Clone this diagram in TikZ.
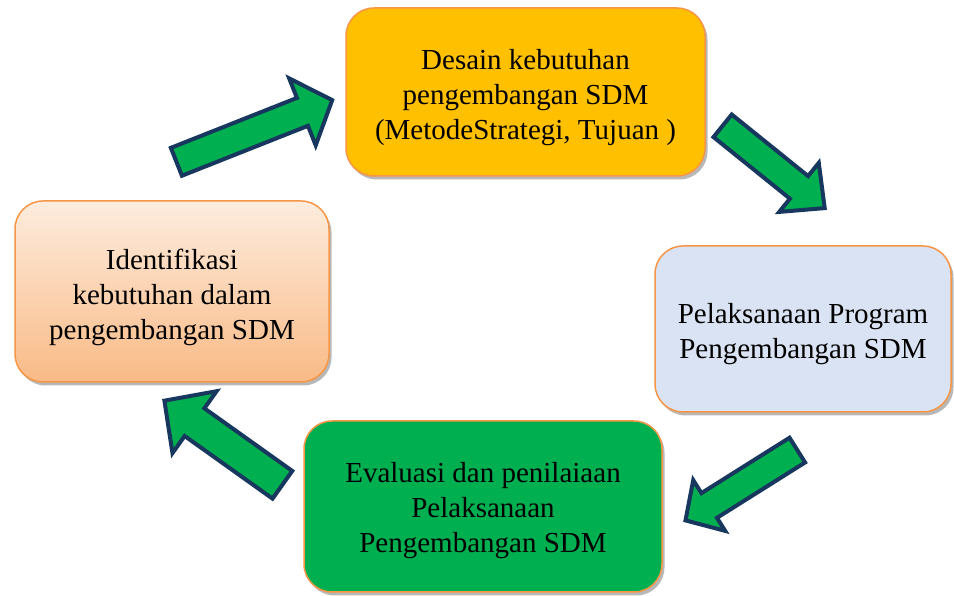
\documentclass[tikz,border=0pt]{standalone}
\usepackage{fontspec}
\setmainfont{Liberation Serif}
\usetikzlibrary{calc,shadows}
\definecolor{boxborder}{RGB}{247,150,70}
\definecolor{goldfill}{RGB}{255,192,0}
\definecolor{bluefill}{RGB}{218,227,243}
\definecolor{greenfill}{RGB}{0,176,80}
\definecolor{peachtop}{RGB}{253,236,222}
\definecolor{peachbot}{RGB}{249,186,134}
\definecolor{navy}{RGB}{23,55,94}
\tikzset{
  stagebox/.style={draw=boxborder, line width=1.5pt, rounded corners=28pt,
    inner sep=0pt,
    drop shadow={shadow xshift=2.5pt, shadow yshift=-3.5pt, fill=black, opacity=0.28}},
  stagetext/.style={align=center, inner sep=0pt, text=black,
    font=\fontsize{29pt}{35pt}\selectfont},
  barrow/.style={draw=navy, fill=greenfill, line width=4pt, line join=miter}
}
\newcommand\blockarr[5]{%
  \coordinate (hb) at ($(#2)!#5!(#1)$);
  \draw[barrow] ($(#1)!#3!90:(#2)$) -- ($(hb)!#3!90:(#2)$) -- ($(hb)!#4!90:(#2)$)
    -- (#2) -- ($(hb)!#4!-90:(#2)$) -- ($(hb)!#3!-90:(#2)$) -- ($(#1)!#3!-90:(#2)$) -- cycle;
}
\begin{document}
\begin{tikzpicture}[x=1pt,y=1pt]
\useasboundingbox (0,0) rectangle (954,596);
\fill[white] (0,0) rectangle (954,596);

\node[stagebox, fill=goldfill, minimum width=359pt, minimum height=168pt] (desain) at (525.5,504) {};
\node[stagebox, top color=peachtop, bottom color=peachbot, minimum width=314pt, minimum height=181pt] (ident) at (172,304.5) {};
\node[stagebox, fill=bluefill, minimum width=296pt, minimum height=166pt] (pelak) at (803,267) {};
\node[stagebox, fill=greenfill, minimum width=358pt, minimum height=171pt] (eval) at (483,89.5) {};

\node[stagetext] (desaintxt) at ([yshift=-6pt]desain.center)
  {Desain kebutuhan\\pengembangan SDM\\(MetodeStrategi, Tujuan )};
\node[stagetext] (identtxt) at ([yshift=-6pt]ident.center)
  {Identifikasi\\kebutuhan dalam\\pengembangan SDM};
\node[stagetext] (pelaktxt) at ([yshift=-5pt]pelak.center)
  {Pelaksanaan Program\\Pengembangan SDM};
\node[stagetext] (evaltxt) at ([yshift=-4pt]eval.center)
  {Evaluasi dan penilaiaan\\Pelaksanaan\\Pengembangan SDM};

\coordinate (a1t) at (176.4,434.2);
\coordinate (a1h) at (332.2,495.9);
\coordinate (a2t) at (722.6,470.2);
\coordinate (a2h) at (824.7,387.9);
\coordinate (a3t) at (797.3,145.9);
\coordinate (a3h) at (685.5,75.6);
\coordinate (a4t) at (282.4,111.2);
\coordinate (a4h) at (164.4,195.3);

\blockarr{a1t}{a1h}{15pt}{36pt}{32pt}
\blockarr{a2t}{a2h}{14.5pt}{31.5pt}{33pt}
\blockarr{a3t}{a3h}{14.6pt}{30pt}{28pt}
\blockarr{a4t}{a4h}{17pt}{38pt}{37pt}
\end{tikzpicture}
\end{document}
